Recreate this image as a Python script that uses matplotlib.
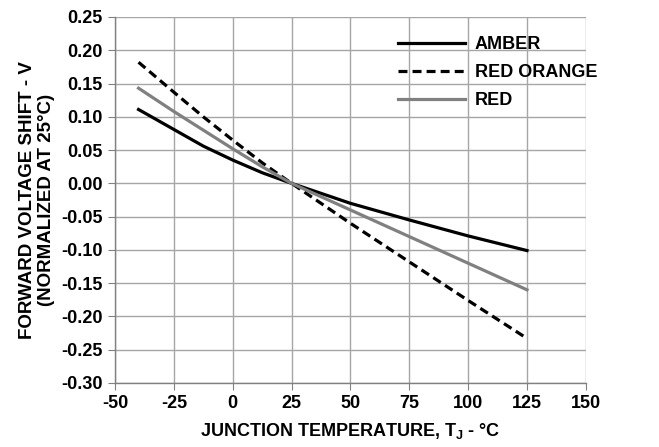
import numpy as np
import matplotlib
matplotlib.use("Agg")
import matplotlib.pyplot as plt

plt.rcParams["font.family"] = ["Liberation Sans", "DejaVu Sans"]
plt.rcParams["font.weight"] = "bold"
plt.rcParams["axes.unicode_minus"] = False
plt.rcParams["mathtext.fontset"] = "custom"
plt.rcParams["mathtext.rm"] = "Liberation Sans:bold"
plt.rcParams["mathtext.bf"] = "Liberation Sans:bold"

# Junction temperature (degC) and forward voltage shift (V)
temp = [-40, -25, -12.5, 0, 12.5, 25, 50, 75, 100, 125]
amber = [0.111, 0.081, 0.056, 0.035, 0.016, 0.0, -0.030, -0.055, -0.079, -0.101]
red_orange = [0.182, 0.137, 0.100, 0.065, 0.031, 0.0, -0.060, -0.118, -0.176, -0.233]
red = [0.143, 0.108, 0.080, 0.052, 0.025, 0.0, -0.040, -0.080, -0.120, -0.160]

x_ticks = np.arange(-50, 151, 25)
y_ticks = np.arange(-0.30, 0.2501, 0.05)
x_labels = [str(v) for v in x_ticks]
y_labels = [f"{v:.2f}" if abs(v) > 1e-9 else "0.00" for v in y_ticks]

fig = plt.figure(figsize=(6.59, 4.47), dpi=100)
ax = fig.add_axes([0.1745, 0.1432, 0.889 - 0.1745, 0.962 - 0.1432])

ax.plot(temp, amber, color="black", linewidth=2.3, label="AMBER")
ax.plot(temp, red_orange, color="black", linewidth=2.3, linestyle=(0, (2.8, 1.6)),
        label="RED ORANGE")
ax.plot(temp, red, color="#808080", linewidth=2.3, label="RED")

tick_font = {"family": "Liberation Sans", "weight": "bold", "size": 13}
ax.set_xlim(-50, 150)
ax.set_ylim(-0.30, 0.25)
ax.set_xticks(x_ticks)
ax.set_xticklabels(x_labels, fontdict=tick_font)
ax.set_yticks(y_ticks)
ax.set_yticklabels(y_labels, fontdict=tick_font)

ax.grid(True, color="#a6a6a6", linewidth=1.0)
ax.set_axisbelow(True)
for side in ["top", "right"]:
    ax.spines[side].set_visible(False)
for side in ["left", "bottom"]:
    ax.spines[side].set_color("#808080")
    ax.spines[side].set_linewidth(1.0)
ax.tick_params(axis="both", direction="out", length=5, color="#808080", pad=4)

ax.set_xlabel(r"JUNCTION TEMPERATURE, T$_{\mathbf{J}}$ - °C", fontsize=13,
              fontweight="bold", labelpad=6)
ax.set_ylabel("FORWARD VOLTAGE SHIFT - V\n(NORMALIZED AT 25°C)", fontsize=13.5,
              fontweight="bold", labelpad=4, linespacing=1.15)

ax.legend(loc="upper left", bbox_to_anchor=(0.586, 0.967), frameon=False,
          prop={"size": 13, "weight": "bold"}, handlelength=3.7,
          handletextpad=0.55, labelspacing=0.6, borderaxespad=0)

fig.savefig("out.png", dpi=100)
